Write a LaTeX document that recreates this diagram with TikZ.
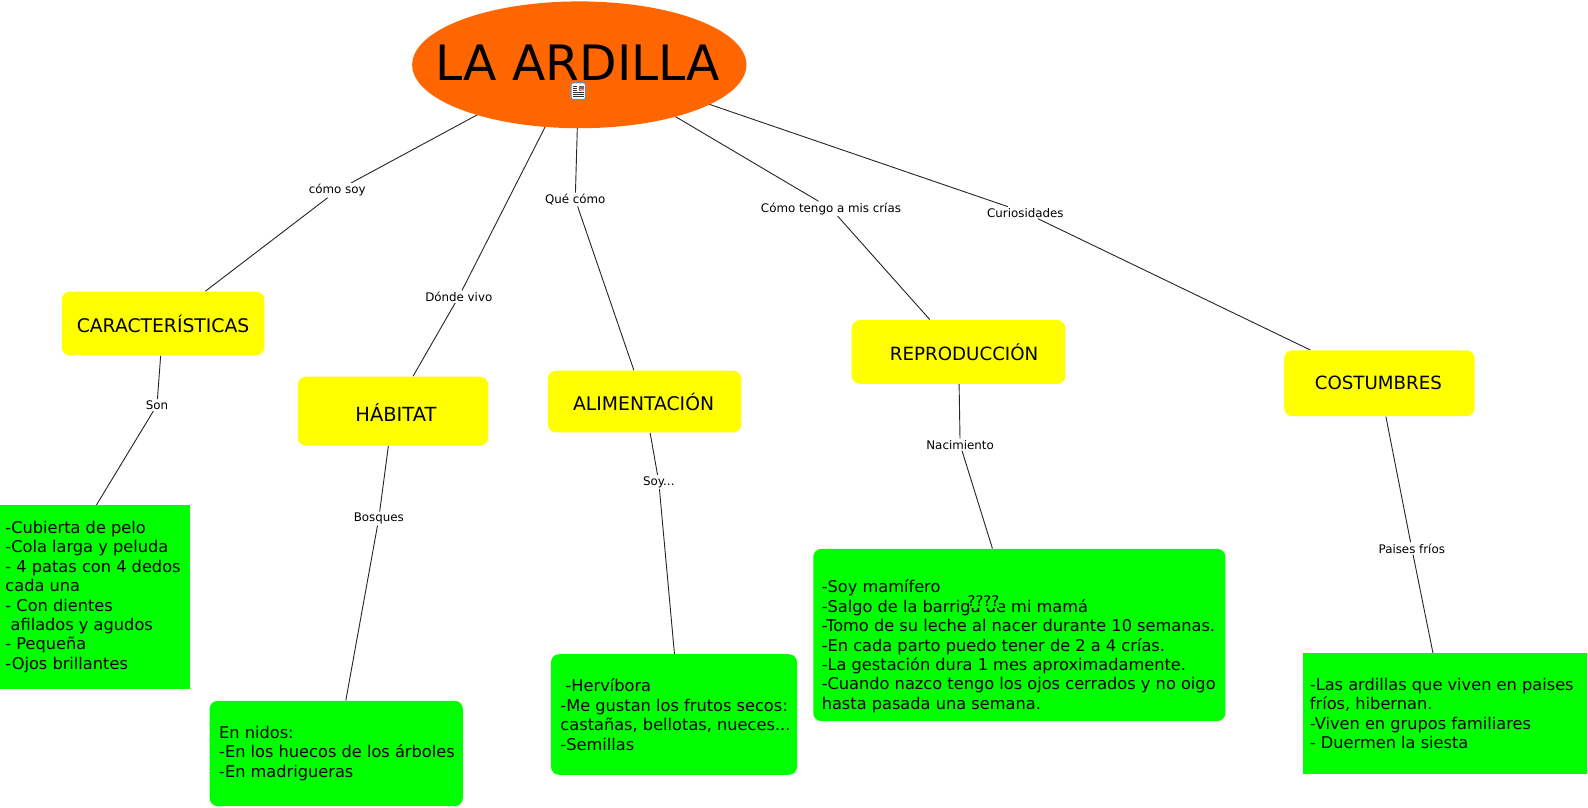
\documentclass[tikz,border=0pt]{standalone}
\usepackage{fontspec}
\setmainfont{DejaVu Sans}
\usetikzlibrary{shapes.geometric,backgrounds}
\definecolor{cmaporange}{RGB}{255,102,0}
\definecolor{cmapyellow}{RGB}{255,255,0}
\definecolor{cmapgreen}{RGB}{0,255,0}
\definecolor{iconblue}{RGB}{110,140,190}
\tikzset{
  x=0.5pt,y=-0.5pt,
  conn/.style={draw=black!85,line width=0.45pt},
  lab/.style={font=\fontsize{5.85}{7}\selectfont,inner sep=0.5pt,fill=white},
  yel/.style={draw=none,fill=cmapyellow,rounded corners=4pt,inner sep=0pt},
  grn/.style={draw=none,fill=cmapgreen,inner sep=0pt},
  grnr/.style={grn,rounded corners=4pt},
  ttl/.style={font=\fontsize{9}{11}\selectfont,inner sep=0pt},
  body/.style={font=\fontsize{8}{9.6}\selectfont,inner sep=0pt,anchor=north west,align=left},
}
\newcommand{\boxat}[6]{\node[#1,minimum width=#4*0.5pt-#2*0.5pt,minimum height=#5*0.5pt-#3*0.5pt] (#6) at ({(#2+#4)/2},{(#3+#5)/2}) {};}
\begin{document}
\begin{tikzpicture}
\useasboundingbox (0,0) rectangle (1568,796.9);
% root
\node[ellipse,fill=cmaporange,inner sep=0pt,minimum width=165pt,minimum height=62.6pt] (root) at (572,64) {};
\coordinate (rootc) at (572,59);
\node[font=\fontsize{24.07}{28}\selectfont,inner sep=0pt] (title) at (570.5,62) {LA ARDILLA};
% concepts
\boxat{yel}{61}{288}{261}{351}{car}
\boxat{yel}{294}{372}{482}{440}{hab}
\boxat{yel}{541}{366}{732}{427}{ali}
\boxat{yel}{841}{316}{1052}{379}{rep}
\boxat{yel}{1268}{346}{1456}{411}{cos}
\node[ttl,font=\fontsize{9.27}{11}\selectfont] (tcar) at (161,320) {CARACTERÍSTICAS};
\node[ttl,font=\fontsize{9.6}{11}\selectfont] (thab) at (391,407) {HÁBITAT};
\node[ttl,font=\fontsize{9.27}{11}\selectfont] (tali) at (635.5,397) {ALIMENTACIÓN};
\node[ttl] (trep) at (952,348) {REPRODUCCIÓN};
\node[ttl] (tcos) at (1361,378.5) {COSTUMBRES};
% details
\boxat{grn}{-2}{499}{188}{680}{dcar}
\boxat{grnr}{207}{692}{457}{796}{dhab}
\boxat{grnr}{544}{646}{787}{765}{dali}
\boxat{grnr}{803}{542}{1210}{712}{drep}
\boxat{grn}{1287}{645}{1567}{764}{dcos}
\coordinate (dcarTop) at (95,499);
\coordinate (daliTop) at (666,646);
\node[body] (tdcar) at (5,514) {-Cubierta de pelo\\-Cola larga y peluda\\- 4 patas con 4 dedos\\cada una\\- Con dientes\\\ afilados y agudos\\- Pequeña\\-Ojos brillantes};
\node[body] (tdhab) at (216,716.5) {En nidos:\\-En los huecos de los árboles\\-En madrigueras};
\node[body] (tdali) at (553,670) {\ -Hervíbora\\-Me gustan los frutos secos:\\castañas, bellotas, nueces...\\-Semillas};
\node[body] (tdrep) at (811,572) {-Soy mamífero\\-Salgo de la barriga de mi mamá\\-Tomo de su leche al nacer durante 10 semanas.\\-En cada parto puedo tener de 2 a 4 crías.\\-La gestación dura 1 mes aproximadamente.\\-Cuando nazco tengo los ojos cerrados y no oigo\\hasta pasada una semana.};
\node[body] (tdcos) at (1293,669) {-Las ardillas que viven en paises\\fríos, hibernan.\\-Viven en grupos familiares\\- Duermen la siesta};
% linking phrases
\node[lab] (l1) at (333,188) {cómo soy};
\node[lab] (l2) at (453,293) {Dónde vivo};
\node[lab] (l3) at (568,197) {Qué cómo};
\node[lab] (l4) at (820.5,206) {Cómo tengo a mis crías};
\node[lab] (l5) at (1012.5,210) {Curiosidades};
\node[lab] (l6) at (155,400) {Son};
\node[lab] (l7) at (374,512) {Bosques};
\node[lab] (l8) at (650.5,476) {Soy...};
\node[lab] (l9) at (948,439) {Nacimiento};
\node[lab] (l10) at (1394,541.5) {Paises fríos};
% connectors
\begin{pgfonlayer}{background}
\draw[conn] (rootc) -- (l1) -- (car);
\draw[conn] (rootc) -- (l2) -- (hab);
\draw[conn] (rootc) -- (l3) -- (ali);
\draw[conn] (rootc) -- (l4) -- (rep);
\draw[conn] (rootc) -- (l5) -- (cos);
\draw[conn] (car) -- (l6) -- (dcarTop);
\draw[conn] (hab) -- (l7) -- (dhab);
\draw[conn] (ali) -- (l8) -- (daliTop);
\draw[conn] (rep) -- (l9) -- (drep);
\draw[conn] (cos) -- (l10) -- (dcos);
\end{pgfonlayer}
% icon
\node[draw=iconblue,fill=white,rounded corners=1pt,line width=0.6pt,minimum width=7.2pt,minimum height=8.2pt,inner sep=0pt] (icon) at (571,90) {};
\fill[iconblue!80!black] (571.5,84.5) rectangle (576.5,90);
\fill[cmaporange!70!white] (573,87.5) rectangle (576.5,90);
\foreach \yy in {85,87,89}{\draw[black!80,line width=0.4pt] (565.5,\yy) -- (570,\yy);}
\foreach \yy in {91.5,93.5,95.5}{\draw[black!80,line width=0.4pt] (565.5,\yy) -- (576.5,\yy);}
% overlay
\node[fill=cmapgreen,inner sep=0pt,minimum width=13.5pt,minimum height=7pt] (patch) at (973,593) {};
\node[font=\fontsize{7.3}{8}\selectfont,inner sep=0pt] (q) at (971,593) {????};
\end{tikzpicture}
\end{document}
